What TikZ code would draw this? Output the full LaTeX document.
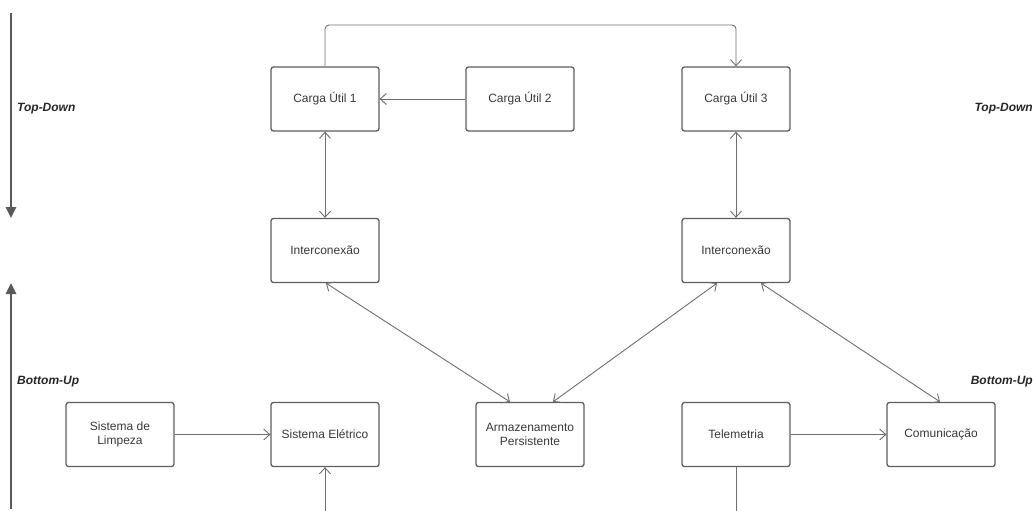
\documentclass[tikz,border=0pt]{standalone}
\usepackage{fontspec}
\setmainfont{Liberation Sans}
\usetikzlibrary{arrows.meta,positioning}
\definecolor{linha}{HTML}{6E6E6E}
\definecolor{borda}{HTML}{5E5E5E}
\definecolor{seta}{HTML}{5A5A5A}
\tikzset{
	bloco/.style={draw=borda, line width=1.3pt, rounded corners=2.5pt, minimum width=108pt, minimum height=64pt, align=center, inner sep=2pt, font=\fontsize{12}{14.5}\selectfont, text=black!78},
	liga/.style={draw=linha, line width=0.9pt, >={Straight Barb[length=6pt,width=11pt]}},
	fase/.style={draw=seta, line width=2.6pt, -{Triangle[length=11pt,width=10pt]}},
	rotulo/.style={font=\fontsize{12}{14}\selectfont\bfseries\itshape, text=black!85, inner sep=0pt}
}
\begin{document}
\begin{tikzpicture}[x=1pt, y=-1pt]
	\useasboundingbox (0,0) rectangle (1033,511);
	% blocos de cima
	\node [bloco] (carga1) at (325,99) {Carga Útil 1};
	\node [bloco] (carga2) at (520,99) {Carga Útil 2};
	\node [bloco] (carga3) at (736,99) {Carga Útil 3};
	\node [bloco] (inter1) at (325,250.5) {Interconexão};
	\node [bloco] (inter2) at (736,250.5) {Interconexão};
	% blocos de baixo
	\node [bloco] (limpeza) at (120,434.5) {Sistema de\\Limpeza};
	\node [bloco] (eletrico) at (325,434.5) {Sistema Elétrico};
	\node [bloco] (armaz) at (530,434.5) {Armazenamento\\Persistente};
	\node [bloco] (telem) at (736,434.5) {Telemetria};
	\node [bloco] (comun) at (941,434.5) {Comunicação};
	% ligações
	\draw [liga, ->, rounded corners=4pt] (carga1.north) -- (325,25) -- (736,25) -- (carga3.north);
	\draw [liga, ->] (carga2) -- (carga1);
	\draw [liga, <->] (carga1) -- (inter1);
	\draw [liga, <->] (carga3) -- (inter2);
	\draw [liga, <->] ([xshift=1pt]inter1.south) -- ([xshift=-20pt]armaz.north);
	\draw [liga, <->] ([xshift=23pt]armaz.north) -- ([xshift=-19pt]inter2.south);
	\draw [liga, <->] ([xshift=25pt]inter2.south) -- ([xshift=-1pt]comun.north);
	\draw [liga, ->] (limpeza) -- (eletrico);
	\draw [liga, ->] (telem) -- (comun);
	\coordinate (fimE) at (325,511);
	\coordinate (fimT) at (736,511);
	\draw [liga, ->] (fimE) -- (eletrico);
	\draw [liga] (telem) -- (fimT);
	% sentido do projeto
	\coordinate (tdA) at (11,13);
	\coordinate (tdB) at (11,218);
	\coordinate (buA) at (11,509);
	\coordinate (buB) at (11,283);
	\draw [fase] (tdA) -- (tdB);
	\draw [fase] (buA) -- (buB);
	\node [rotulo, anchor=west] (tdE) at (17,109) {Top-Down};
	\node [rotulo, anchor=west] (buE) at (17,382) {Bottom-Up};
	\node [rotulo, anchor=east] (tdD) at (1033,109) {Top-Down};
	\node [rotulo, anchor=east] (buD) at (1033,382) {Bottom-Up};
\end{tikzpicture}
\end{document}
